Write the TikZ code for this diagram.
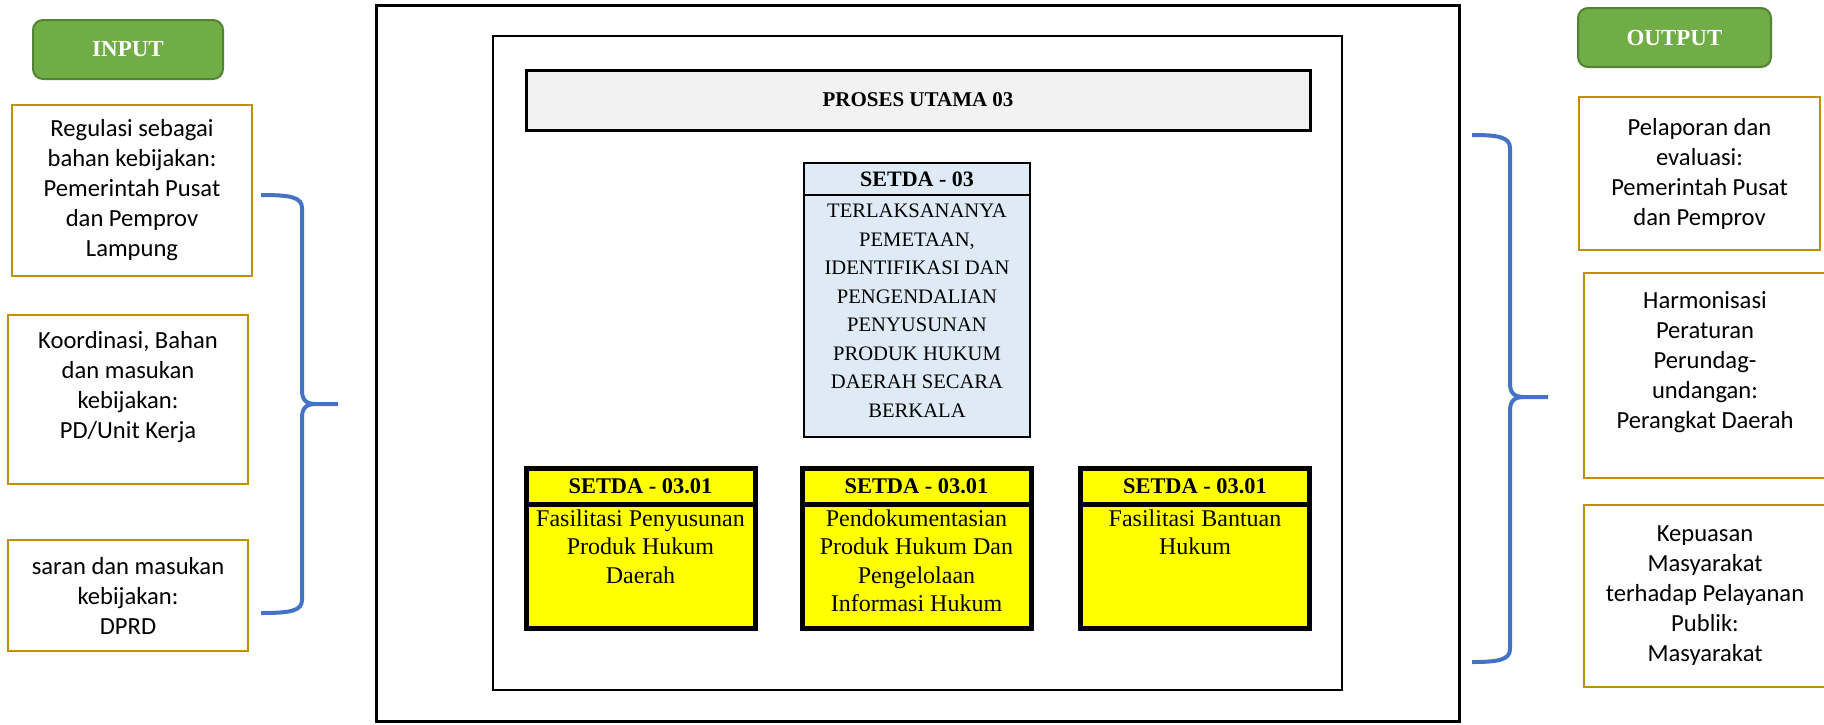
\documentclass[tikz,border=0pt]{standalone}
\usepackage{fontspec}
\setmainfont{Liberation Serif}
\newfontfamily\sidefont{Carlito}
\definecolor{gold}{HTML}{BF9000}
\definecolor{grfill}{HTML}{70AD47}
\definecolor{grline}{HTML}{548235}
\definecolor{brblue}{HTML}{4472C4}
\definecolor{lblue}{HTML}{DEEBF7}
\definecolor{lgray}{HTML}{F2F2F2}
\definecolor{yfill}{HTML}{FFFF00}

\begin{document}
\begin{tikzpicture}[x=0.5pt,y=-0.5pt]

\tikzset{sidebox/.style = {draw=gold, line width=1pt, align=center, inner sep=0pt, font=\fontsize{12.3}{15}\sidefont}}
\tikzset{tag/.style = {draw=grline, fill=grfill, line width=1pt, rounded corners=5pt, text=white, font=\fontsize{11.5}{14}\selectfont\bfseries}}
\tikzset{head/.style = {draw, line width=2.5pt, fill=yfill, minimum width=114.5pt, minimum height=18pt, inner sep=0pt, font=\fontsize{11.2}{14}\selectfont\bfseries}}
\tikzset{body/.style = {draw, line width=2.5pt, fill=yfill, minimum width=114.5pt, minimum height=62pt}}
\tikzset{btext/.style = {anchor=north, align=center, inner sep=4pt, font=\fontsize{12}{14.2}\selectfont}}
\tikzset{brace/.style = {draw=brblue, line width=2pt}}
\useasboundingbox (0,0) rectangle (1824,724);

%frames
\draw[line width=1.5pt] (376,5) rectangle (1459,721);
\draw[line width=1.2pt] (493,36) rectangle (1342,690);

%input side
\node[tag, minimum width=95pt, minimum height=29.5pt] (in) at (128,49.5) {INPUT};
\node[sidebox, minimum width=120pt, minimum height=85.5pt] (in1) at (132,190.5) {Regulasi sebagai\\bahan kebijakan:\\Pemerintah Pusat\\dan Pemprov\\Lampung};
\node[sidebox, minimum width=120pt, minimum height=84.5pt] (in2) at (128,399.5) {Koordinasi, Bahan\\dan masukan\\kebijakan:\\PD/Unit Kerja\\\mbox{}};
\node[sidebox, minimum width=120pt, minimum height=55.5pt] (in3) at (128,595.5) {saran dan masukan\\kebijakan:\\DPRD};

%output side
\node[tag, minimum width=96.5pt, minimum height=29.5pt] (out) at (1674.5,37.5) {OUTPUT};
\node[sidebox, minimum width=120.5pt, minimum height=76.5pt] (out1) at (1699.5,173.5) {Pelaporan dan\\evaluasi:\\Pemerintah Pusat\\dan Pemprov};
\node[sidebox, minimum width=121pt, minimum height=102.5pt] (out2) at (1705,375.5) {Harmonisasi\\Peraturan\\Perundag-\\undangan:\\Perangkat Daerah\\\mbox{}};
\node[sidebox, minimum width=121pt, minimum height=91pt] (out3) at (1705,596) {Kepuasan\\Masyarakat\\terhadap Pelayanan\\Publik:\\Masyarakat};

%main process
\node[draw, line width=1.5pt, fill=lgray, minimum width=392pt, minimum height=30pt, font=\fontsize{10.5}{13}\selectfont\bfseries] (main) at (918,100) {PROSES UTAMA 03};
\node[draw, line width=1.4pt, fill=lblue, minimum width=113pt, minimum height=121pt] (c1) at (917,316) {};
\node[draw, line width=1.4pt, fill=lblue, minimum width=113pt, minimum height=16pt, inner sep=0pt, font=\fontsize{11}{13}\selectfont\bfseries] (c1h) at (917,179) {SETDA - 03};
\node[btext, inner sep=5pt, font=\fontsize{10.3}{14.25}\selectfont] (c1t) at (c1.north) {TERLAKSANANYA\\PEMETAAN,\\IDENTIFIKASI DAN\\PENGENDALIAN\\PENYUSUNAN\\PRODUK HUKUM\\DAERAH SECARA\\BERKALA};

%sub processes
\node[body] (y1) at (640.5,566) {};
\node[head] (h1) at (640.5,486) {SETDA - 03.01};
\node[btext] (y1t) at (y1.north) {Fasilitasi Penyusunan\\Produk Hukum\\Daerah};
\node[body] (y2) at (916.5,566) {};
\node[head] (h2) at (916.5,486) {SETDA - 03.01};
\node[btext] (y2t) at (y2.north) {Pendokumentasian\\Produk Hukum Dan\\Pengelolaan\\Informasi Hukum};
\node[body] (y3) at (1195,566) {};
\node[head] (h3) at (1195,486) {SETDA - 03.01};
\node[btext] (y3t) at (y3.north) {Fasilitasi Bantuan\\Hukum};

%braces
\draw[brace] (261,195) .. controls (290,195) and (302,197) .. (302,208) -- (302,390)
  .. controls (302,400) and (306,404) .. (316,404) -- (338,404)
  (316,404) .. controls (306,404) and (302,408) .. (302,418) -- (302,600)
  .. controls (302,611) and (290,613) .. (261,613);
\draw[brace] (1472,135) .. controls (1498,135) and (1510,137) .. (1510,148) -- (1510,383)
  .. controls (1510,393) and (1514,397) .. (1524,397) -- (1548,397)
  (1524,397) .. controls (1514,397) and (1510,401) .. (1510,411) -- (1510,649)
  .. controls (1510,660) and (1498,662) .. (1472,662);

\end{tikzpicture}
\end{document}
